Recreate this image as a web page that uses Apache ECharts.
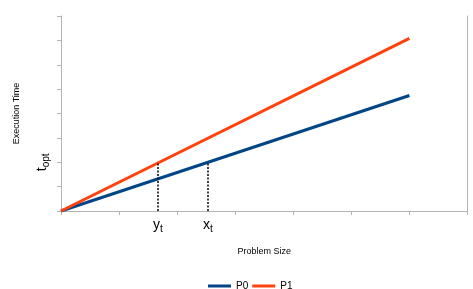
<!DOCTYPE html>
<html><head><meta charset="utf-8">
<script src="https://cdn.jsdelivr.net/npm/echarts@6/dist/echarts.min.js"></script>
<style>html,body{margin:0;padding:0;background:#fff}#c{width:473px;height:289px}</style>
</head><body><div id="c"></div>
<script>
const seriesNames = ['P0', 'P1'];
const p0Data = [[0, 0], [6, 4.74]];
const p1Data = [[0, 0], [6, 7.08]];
const xTickValues = [0, 1, 2, 3, 4, 5, 6, 7];
const yTickValues = [0, 1, 2, 3, 4, 5, 6, 7, 8];
const tOpt = 2;
const yT = 1.67;
const xT = 2.53;
const xMarkLabels = [{ v: yT, main: 'y', sub: 't' }, { v: xT, main: 'x', sub: 't' }];
const yMarkLabel = { v: tOpt, main: 't', sub: 'opt' };

const axisGrey = '#b3b3b3';
const chart = echarts.init(document.getElementById('c'));
const subRich = {
  m: { fontSize: 14, color: '#000', fontFamily: 'Liberation Sans' },
  s: { fontSize: 10, color: '#000', fontFamily: 'Liberation Sans', padding: [8, 0, 0, 0] }
};
chart.setOption({
  animation: false,
  grid: { left: 61, right: 5.5, top: 16, bottom: 78, containLabel: false },
  xAxis: {
    type: 'value', min: 0, max: 7, interval: 1,
    name: 'Problem Size', nameLocation: 'middle', nameGap: 36,
    nameTextStyle: { fontSize: 9, color: '#000', fontFamily: 'Liberation Sans' },
    axisLine: { show: true, lineStyle: { color: axisGrey, width: 1 } },
    axisTick: { show: true, length: 4, lineStyle: { color: axisGrey }, customValues: xTickValues },
    splitLine: { show: false },
    axisLabel: {
      show: true, margin: 5, rich: subRich,
      customValues: xMarkLabels.map(d => d.v),
      formatter: function (v) {
        const d = xMarkLabels.find(e => Math.abs(e.v - v) < 1e-6);
        return d ? '{m|' + d.main + '}{s|' + d.sub + '}' : '';
      }
    }
  },
  yAxis: [{
    type: 'value', min: 0, max: 8, interval: 1,
    name: 'Execution Time', nameLocation: 'middle', nameGap: 40, nameRotate: 90,
    nameTextStyle: { fontSize: 9, color: '#000', fontFamily: 'Liberation Sans' },
    axisLine: { show: true, lineStyle: { color: axisGrey, width: 1 } },
    axisTick: { show: true, length: 4, lineStyle: { color: axisGrey }, customValues: yTickValues },
    splitLine: { show: false },
    axisLabel: {
      show: true, margin: 10, rotate: 90, rich: subRich,
      customValues: [yMarkLabel.v],
      formatter: function (v) {
        return Math.abs(v - yMarkLabel.v) < 1e-6 ? '{m|' + yMarkLabel.main + '}{s|' + yMarkLabel.sub + '}' : '';
      }
    }
  }, {
    type: 'value', min: 0, max: 8, interval: 1, position: 'right',
    axisLine: { show: true, lineStyle: { color: axisGrey, width: 1 } },
    axisTick: { show: false }, axisLabel: { show: false }, splitLine: { show: false }
  }],
  legend: {
    data: seriesNames, left: 208, top: 281, padding: 0, itemWidth: 23, itemHeight: 3, itemGap: 4, icon: 'rect',
    textStyle: { fontSize: 10, color: '#000', fontFamily: 'Liberation Sans' }
  },
  series: [{
    name: seriesNames[0], type: 'line', data: p0Data, symbol: 'none', color: '#004586',
    lineStyle: { width: 3, color: '#004586' },
    markLine: {
      silent: true, symbol: 'none', label: { show: false },
      lineStyle: { type: [2, 1.5], color: '#000', width: 1.5 },
      data: [
        [{ coord: [yT, 0] }, { coord: [yT, tOpt] }],
        [{ coord: [xT, 0] }, { coord: [xT, tOpt] }]
      ]
    }
  }, {
    name: seriesNames[1], type: 'line', data: p1Data, symbol: 'none', color: '#ff420e',
    lineStyle: { width: 3, color: '#ff420e' }
  }]
});
</script></body></html>
